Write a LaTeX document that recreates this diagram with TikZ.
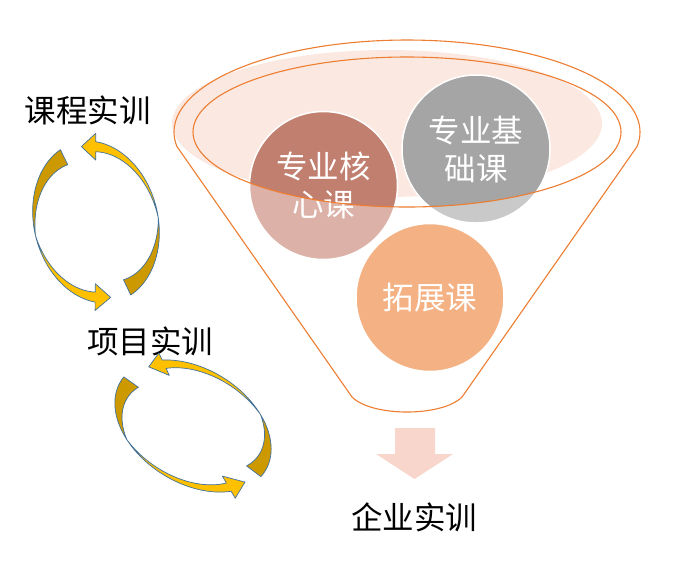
\documentclass[tikz,border=0pt]{standalone}
\usepackage{fontspec}
\setmainfont{Noto Sans CJK SC}
\definecolor{funnelline}{RGB}{237,125,49}
\definecolor{mouthfill}{RGB}{251,233,225}
\definecolor{coredark}{RGB}{193,127,111}
\definecolor{corelight}{RGB}{220,178,168}
\definecolor{basedark}{RGB}{165,165,165}
\definecolor{baselight}{RGB}{201,201,201}
\definecolor{extfill}{RGB}{244,177,131}
\definecolor{downfill}{RGB}{248,214,203}
\definecolor{golddark}{RGB}{204,153,0}
\definecolor{goldlight}{RGB}{255,192,0}
\definecolor{rimblue}{RGB}{65,113,156}
\tikzset{
	label text/.style={font=\fontsize{31.5}{38}\selectfont, inner sep=0pt},
	ball/.style={circle, minimum size=148, inner sep=0pt},
	ball text/.style={font=\fontsize{31.5}{38}\selectfont, text=white, align=center, inner sep=0pt},
	funnel edge/.style={draw=funnelline, line width=1.1pt, line join=round},
	gold band/.style={draw=rimblue, line width=0.7pt, line join=round},
}
\newcommand\ringA{80}
\newcommand\ringB{60}
\newcommand\ringR{70}
\newcommand\tailW{15}
\newcommand\baseW{9}
\newcommand\headW{12}
% #1 tail, #2 twist, #3 head base, #4 tip (angles on the ring)
\newcommand\ringarrow[4]{%
	\filldraw[fill=golddark, gold band]
	plot[domain=0:1, samples=25, variable=\q] ({\ringB*cos((#1)+((#2)-(#1))*\q)}, {\ringA*sin((#1)+((#2)-(#1))*\q)})
	-- plot[domain=0:1, samples=25, variable=\q] ({(1-\tailW*\q/\ringR)*\ringB*cos((#2)+((#1)-(#2))*\q)}, {(1-\tailW*\q/\ringR)*\ringA*sin((#2)+((#1)-(#2))*\q)})
	-- cycle;
	\filldraw[fill=goldlight, gold band]
	plot[domain=0:1, samples=30, variable=\q] ({\ringB*cos((#2)+((#3)-(#2))*\q)}, {\ringA*sin((#2)+((#3)-(#2))*\q)})
	-- ({(1-(\baseW/2-\headW)/\ringR)*\ringB*cos(#3)}, {(1-(\baseW/2-\headW)/\ringR)*\ringA*sin(#3)})
	-- ({(1-\baseW/2/\ringR)*\ringB*cos(#4)}, {(1-\baseW/2/\ringR)*\ringA*sin(#4)})
	-- ({(1-(\baseW/2+\headW)/\ringR)*\ringB*cos(#3)}, {(1-(\baseW/2+\headW)/\ringR)*\ringA*sin(#3)})
	-- plot[domain=0:1, samples=30, variable=\q] ({(1-\baseW*(1-\q)/\ringR)*\ringB*cos((#3)+((#2)-(#3))*\q)}, {(1-\baseW*(1-\q)/\ringR)*\ringA*sin((#3)+((#2)-(#3))*\q)})
	-- cycle;
}

\begin{document}
\begin{tikzpicture}[x=1pt, y=-1pt]
	\useasboundingbox (0,0) rectangle (692,566);
	\coordinate (mouth) at (407,132);
	\coordinate (neckL) at (352,397);
	\coordinate (neckR) at (462,397);
	\fill[mouthfill] (387,123.5) ellipse[x radius=215, y radius=73.5];

	\node[ball, fill=corelight] (core) at (323.5,185.5) {};
	\node[ball, fill=baselight] (basic) at (476,149) {};
	\node[ball, fill=extfill, draw=white, line width=1.5pt] (ext) at (430,297.5) {};
	\begin{scope}
		\clip (mouth) ellipse[x radius=214, y radius=75];
		\fill[coredark] (core) circle[radius=74];
		\fill[basedark] (basic) circle[radius=74];
	\end{scope}
	\draw[white, line width=1.5pt] (core) circle[radius=74] (basic) circle[radius=74];
	\node[ball text] at (core) {专业核\\心课};
	\node[ball text] at (basic) {专业基\\础课};
	\node[ball text] at (ext) {拓展课};

	\draw[funnel edge] (mouth) ellipse[x radius=214, y radius=75];
	\draw[funnel edge] plot[domain=171:369, samples=90, variable=\q] ({407+233*cos(\q)}, {132+92*sin(\q)})
	-- (neckR) .. controls +(-20,20) and +(20,20) .. (neckL) -- cycle;

	\fill[downfill] (395,428) -- (435,428) -- (435,454) -- (453,454) -- (414.5,479) -- (376,454) -- (395,454) -- cycle;

	\node[label text] (course) at (87.5,110) {课程实训};
	\node[label text] (project) at (150,341) {项目实训};
	\node[label text] (company) at (414,517.5) {企业实训};

	\begin{scope}[shift={(96,222)}, rotate=14]
		\def\ringA{82}\def\ringB{62}\def\ringR{72}
		\ringarrow{254}{181}{109}{94}
		\ringarrow{75}{8}{-72}{-86}
	\end{scope}
	\begin{scope}[shift={(193,426)}, rotate=58]
		\def\ringA{85}\def\ringB{57}\def\ringR{71}
		\ringarrow{275}{215}{128}{112}
		\ringarrow{97}{37}{-46}{-60}
	\end{scope}
\end{tikzpicture}
\end{document}
